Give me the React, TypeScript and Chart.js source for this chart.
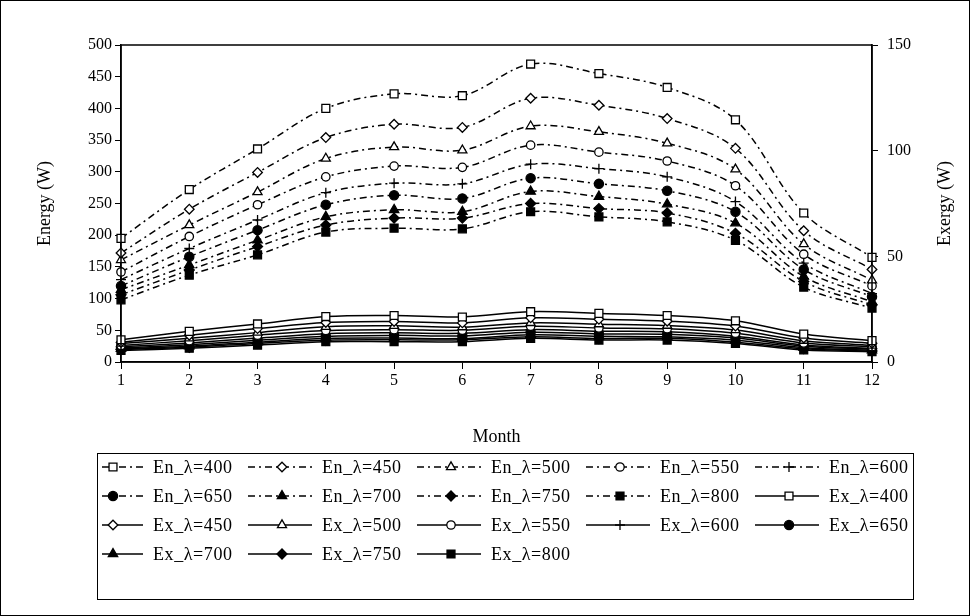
import React, { useEffect, useRef } from 'react';
import { Chart, registerables } from 'chart.js';

Chart.register(...registerables);

const months = ['1', '2', '3', '4', '5', '6', '7', '8', '9', '10', '11', '12'];
const wavelengths = [400, 450, 500, 550, 600, 650, 700, 750, 800];

// Energy (W), left axis
const en400 = [195, 272, 336, 400, 423, 420, 470, 455, 433, 382, 235, 165];
const en450 = [172, 241, 299, 354, 375, 370, 416, 405, 384, 337, 207, 146];
const en500 = [161, 216, 268, 321, 339, 334, 372, 363, 345, 304, 186, 129];
const en550 = [142, 198, 248, 292, 309, 307, 342, 331, 317, 278, 170, 120];
const en600 = [130, 179, 224, 267, 282, 281, 312, 305, 292, 253, 156, 108];
const en650 = [120, 166, 208, 248, 263, 258, 290, 281, 270, 237, 146, 103];
const en700 = [114, 153, 192, 229, 240, 237, 269, 261, 249, 219, 135, 95];
const en750 = [106, 145, 182, 216, 227, 227, 250, 242, 235, 203, 127, 90];
const en800 = [98, 137, 169, 205, 211, 210, 237, 229, 221, 192, 118, 85];

// Exergy (W), right axis
const ex400 = [10.5, 14.5, 18.0, 21.5, 22.0, 21.3, 23.8, 23.0, 22.0, 19.5, 13.2, 10.1];
const ex450 = [9.3, 12.7, 15.8, 18.7, 19.2, 18.5, 20.9, 20.2, 19.3, 17.0, 11.4, 8.9];
const ex500 = [8.7, 11.2, 13.9, 16.7, 17.1, 16.5, 18.5, 17.9, 17.2, 15.1, 10.1, 7.8];
const ex550 = [7.8, 10.1, 12.7, 14.9, 15.3, 15.0, 16.9, 16.1, 15.7, 13.6, 9.0, 7.2];
const ex600 = [7.2, 9.0, 11.3, 13.4, 13.8, 13.6, 15.3, 14.6, 14.3, 12.2, 8.1, 6.4];
const ex650 = [6.6, 8.2, 10.3, 12.2, 12.6, 12.3, 14.1, 13.3, 13.1, 11.3, 7.5, 6.1];
const ex700 = [6.3, 7.5, 9.4, 11.1, 11.3, 11.1, 12.9, 12.2, 11.9, 10.3, 6.8, 5.6];
const ex750 = [5.9, 7.0, 8.8, 10.3, 10.5, 10.5, 11.9, 11.1, 11.2, 9.4, 6.3, 5.2];
const ex800 = [5.5, 6.5, 8.0, 9.6, 9.6, 9.6, 11.2, 10.4, 10.4, 8.8, 5.7, 4.9];

const energySeries = [en400, en450, en500, en550, en600, en650, en700, en750, en800];
const exergySeries = [ex400, ex450, ex500, ex550, ex600, ex650, ex700, ex750, ex800];

const energyMax = 500;
const energyStep = 50;
const exergyMax = 150;
const exergyStep = 50;

const xTitle = 'Month';
const yTitle = 'Energy (W)';
const y2Title = 'Exergy (W)';

const FONT = "'Liberation Serif', 'Times New Roman', serif";

type MarkerDef = { style: string; fill: boolean; r: number };
const markers: MarkerDef[] = [
  { style: 'rect', fill: false, r: 5.6 },
  { style: 'rectRot', fill: false, r: 4.8 },
  { style: 'triangle', fill: false, r: 5.2 },
  { style: 'circle', fill: false, r: 4.2 },
  { style: 'cross', fill: false, r: 5 },
  { style: 'circle', fill: true, r: 4.6 },
  { style: 'triangle', fill: true, r: 5.4 },
  { style: 'rectRot', fill: true, r: 5 },
  { style: 'rect', fill: true, r: 5.6 },
];

const EN_DASH = [7, 4, 2, 4];

function drawMarker(ctx: CanvasRenderingContext2D, m: MarkerDef, x: number, y: number) {
  const r = m.r;
  ctx.save();
  ctx.setLineDash([]);
  ctx.lineWidth = 1.3;
  ctx.strokeStyle = '#000';
  ctx.fillStyle = m.fill ? '#000' : '#fff';
  ctx.beginPath();
  if (m.style === 'rect') {
    const s = r * Math.SQRT1_2;
    ctx.rect(x - s, y - s, 2 * s, 2 * s);
  } else if (m.style === 'rectRot') {
    ctx.moveTo(x - r, y);
    ctx.lineTo(x, y - r);
    ctx.lineTo(x + r, y);
    ctx.lineTo(x, y + r);
    ctx.closePath();
  } else if (m.style === 'triangle') {
    let a = 0;
    ctx.moveTo(x + Math.sin(a) * r, y - Math.cos(a) * r);
    a += (2 * Math.PI) / 3;
    ctx.lineTo(x + Math.sin(a) * r, y - Math.cos(a) * r);
    a += (2 * Math.PI) / 3;
    ctx.lineTo(x + Math.sin(a) * r, y - Math.cos(a) * r);
    ctx.closePath();
  } else if (m.style === 'circle') {
    ctx.arc(x, y, r, 0, Math.PI * 2);
  } else if (m.style === 'cross') {
    ctx.moveTo(x, y - r);
    ctx.lineTo(x, y + r);
    ctx.moveTo(x - r, y);
    ctx.lineTo(x + r, y);
  }
  if (m.style !== 'cross') ctx.fill();
  ctx.stroke();
  ctx.restore();
}

const legendBox = { left: 97, top: 453, right: 913, bottom: 599 };
const legendCols = 5;

const framePlugin = {
  id: 'framePlugin',
  afterDraw(chart: any) {
    const ctx: CanvasRenderingContext2D = chart.ctx;
    const ca = chart.chartArea;
    ctx.save();
    // outer chart border
    ctx.strokeStyle = '#000';
    ctx.lineWidth = 1;
    ctx.strokeRect(0.5, 0.5, chart.width - 1, chart.height - 1);
    // plot area frame
    ctx.lineWidth = 1.5;
    ctx.strokeRect(ca.left, ca.top, ca.right - ca.left, ca.bottom - ca.top);
    // right axis title, rotated
    ctx.fillStyle = '#000';
    ctx.font = `18px ${FONT}`;
    ctx.textAlign = 'center';
    ctx.textBaseline = 'middle';
    ctx.translate(945, (ca.top + ca.bottom) / 2);
    ctx.rotate(-Math.PI / 2);
    ctx.fillText(y2Title, 0, 0);
    ctx.restore();

    // legend
    ctx.save();
    ctx.strokeStyle = '#000';
    ctx.lineWidth = 1;
    ctx.strokeRect(legendBox.left + 0.5, legendBox.top + 0.5, legendBox.right - legendBox.left, legendBox.bottom - legendBox.top);
    const pitch = 169;
    const rowH = 29;
    chart.data.datasets.forEach((ds: any, i: number) => {
      const col = i % legendCols;
      const row = Math.floor(i / legendCols);
      const mx = legendBox.left + 16 + col * pitch;
      const y = legendBox.top + 14 + row * rowH;
      const x0 = Math.max(mx - 34, legendBox.left + 5);
      ctx.save();
      ctx.strokeStyle = '#000';
      ctx.lineWidth = 1.5;
      ctx.setLineDash(ds.borderDash || []);
      ctx.beginPath();
      ctx.moveTo(x0, y);
      ctx.lineTo(mx + 30, y);
      ctx.stroke();
      ctx.restore();
      drawMarker(ctx, ds._marker, mx, y);
      ctx.save();
      ctx.font = `18px ${FONT}`;
      (ctx as any).letterSpacing = '0.6px';
      ctx.textBaseline = 'middle';
      ctx.textAlign = 'left';
      ctx.fillStyle = '#000';
      ctx.fillText(ds.label, mx + 40, y + 1);
      ctx.restore();
    });
    ctx.restore();
  },
};

export default function App() {
  const ref = useRef<HTMLCanvasElement>(null);

  useEffect(() => {
    if (!ref.current) return;
    const makeDs = (prefix: string, data: number[], i: number, axis: string, dashed: boolean) => {
      const m = markers[i];
      return {
        label: `${prefix}_\u03bb=${wavelengths[i]}`,
        data,
        yAxisID: axis,
        borderColor: '#000',
        borderWidth: 1.5,
        borderDash: dashed ? EN_DASH : [],
        tension: 0.35,
        fill: false,
        pointStyle: m.style,
        pointRadius: m.r,
        pointHoverRadius: m.r,
        pointBackgroundColor: m.fill ? '#000' : '#fff',
        pointBorderColor: '#000',
        pointBorderWidth: 1.3,
        _marker: m,
      };
    };
    const datasets: any[] = [
      ...energySeries.map((d, i) => makeDs('En', d, i, 'y', true)),
      ...exergySeries.map((d, i) => makeDs('Ex', d, i, 'y2', false)),
    ];

    const chart = new Chart(ref.current, {
      type: 'line',
      data: { labels: months, datasets },
      options: {
        responsive: false,
        animation: false,
        devicePixelRatio: 1,
        layout: { padding: { top: 45, bottom: 164, left: 0, right: 0 } },
        plugins: { legend: { display: false }, tooltip: { enabled: false } },
        scales: {
          x: {
            type: 'category',
            offset: false,
            grid: { display: true, drawOnChartArea: false, drawTicks: true, tickLength: 7, color: '#000', lineWidth: 1 },
            border: { display: true, color: '#000', width: 1.5 },
            ticks: { color: '#000', font: { family: FONT, size: 16 }, padding: 2, maxRotation: 0, autoSkip: false },
            title: { display: true, text: xTitle, color: '#000', font: { family: FONT, size: 18 }, padding: { top: 0, bottom: 4 } },
            afterFit: (s: any) => { s.height = 90; },
          },
          y: {
            type: 'linear',
            position: 'left',
            min: 0,
            max: energyMax,
            grid: { display: true, drawOnChartArea: false, drawTicks: true, tickLength: 6, color: '#000', lineWidth: 1 },
            border: { display: true, color: '#000', width: 1.5 },
            ticks: { stepSize: energyStep, color: '#000', font: { family: FONT, size: 16 }, padding: 3 },
            title: { display: true, text: yTitle, color: '#000', font: { family: FONT, size: 18 }, padding: { top: 34, bottom: 0 } },
            afterFit: (s: any) => { s.width = 121; },
          },
          y2: {
            type: 'linear',
            position: 'right',
            min: 0,
            max: exergyMax,
            grid: { display: true, drawOnChartArea: false, drawTicks: true, tickLength: 6, color: '#000', lineWidth: 1 },
            border: { display: true, color: '#000', width: 1.5 },
            ticks: { stepSize: exergyStep, color: '#000', font: { family: FONT, size: 16 }, padding: 9 },
            afterFit: (s: any) => { s.width = 98; },
          },
        },
      },
      plugins: [framePlugin],
    } as any);

    return () => chart.destroy();
  }, []);

  return (
    <div style={{ position: 'absolute', left: 0, top: 0, width: 970, height: 616, background: '#fff' }}>
      <canvas ref={ref} width={970} height={616} style={{ display: 'block' }} />
    </div>
  );
}
